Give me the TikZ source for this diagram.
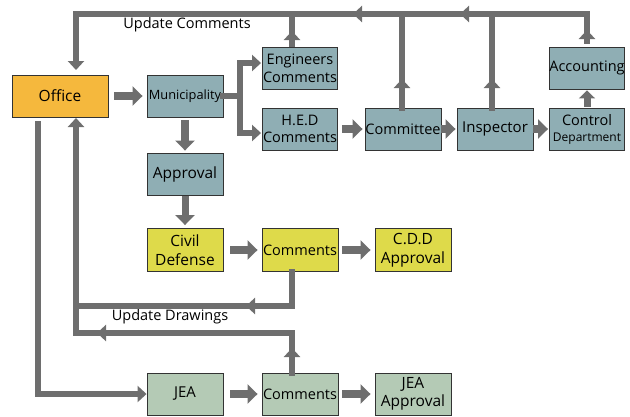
\documentclass[tikz,border=0pt]{standalone}
\usepackage{fontspec}
\setmainfont{Open Sans}
\usetikzlibrary{arrows.meta}
\definecolor{arr}{HTML}{6E6E6E}
\definecolor{orng}{HTML}{F5B83D}
\definecolor{blu}{HTML}{8FAEB4}
\definecolor{yel}{HTML}{DEDA4A}
\definecolor{grn}{HTML}{B4CAB5}
\definecolor{bord}{HTML}{333333}
\tikzset{
  box/.style={draw=bord, line width=0.9pt, minimum width=76pt, minimum height=42pt,
    inner sep=0pt, align=center, font=\fontsize{14.5}{16}\selectfont, text=black},
  fat/.style={draw=arr, line width=8pt, -{Triangle[width=19pt,length=10pt]}},
  lineA/.style={draw=arr, line width=6pt, line join=miter, line cap=rect, -{Triangle[width=16pt,length=9pt]}},
  lineP/.style={draw=arr, line width=6pt, line join=miter, line cap=rect},
  lbl/.style={font=\fontsize{14.5}{16}\selectfont, text=black}
}
\begin{document}
\begin{tikzpicture}[x=1pt,y=-1pt]
\useasboundingbox (0,0) rectangle (630,416);
% nodes
\node[box, fill=orng, minimum width=96pt, font=\fontsize{15.5}{17}\selectfont] (office) at (60,96) {Office};
\node[box, fill=blu, font=\fontsize{12.8}{14}\selectfont] (muni) at (185,96) {Municipality};
\node[box, fill=blu, font=\fontsize{15.5}{17}\selectfont] (appr) at (185,174) {Approval};
\node[box, fill=blu, minimum width=75pt] (eng) at (300,68) {Engineers\\[1.5pt]Comments};
\node[box, fill=blu, minimum width=75pt] (hed) at (300,129) {H.E.D\\[1.5pt]Comments};
\node[box, fill=blu] (comm) at (403,129) {Committee};
\node[box, fill=blu, font=\fontsize{15}{16}\selectfont] (insp) at (495,129) {Inspector};
\node[box, fill=blu, minimum width=75pt, font=\fontsize{14.5}{15}\selectfont] (ctrl) at (587,129) {Control\\[1pt]{\fontsize{12}{13}\selectfont Department}};
\node[box, fill=blu, minimum width=75pt] (acc) at (587,68) {Accounting};
\node[box, fill=yel, minimum height=43pt, font=\fontsize{15.5}{17}\selectfont] (civil) at (185,250) {Civil\\[1.5pt]Defense};
\node[box, fill=yel, minimum height=43pt] (ycom) at (300,250) {Comments};
\node[box, fill=yel, minimum height=43pt, font=\fontsize{15.5}{17}\selectfont] (cdd) at (413,250) {C.D.D\\[1.5pt]Approval};
\node[box, fill=grn, font=\fontsize{15}{16}\selectfont] (jea) at (185,394) {JEA};
\node[box, fill=grn] (gcom) at (300,394) {Comments};
\node[box, fill=grn, font=\fontsize{15.5}{17}\selectfont] (jeaa) at (413,394) {JEA\\[1.5pt]Approval};
\node[lbl] (uc) at (187,25) {Update Comments};
\node[lbl] (ud) at (170,317) {Update Drawings};
% coordinates
\coordinate (br) at (240,96);
\coordinate (br1) at (240,63);
\coordinate (br2) at (240,133);
\coordinate (accTip) at (587,30);
\coordinate (tr) at (587,14);
\coordinate (h1) at (460,14);
\coordinate (h2) at (353,14);
\coordinate (tl) at (76,14);
\coordinate (offTip) at (76,70);
\coordinate (engB) at (292,44);
\coordinate (engTip) at (292,31);
\coordinate (engT) at (292,14);
\coordinate (cB) at (402,108);
\coordinate (cTip) at (402,79);
\coordinate (cT) at (402,14);
\coordinate (iB) at (492,108);
\coordinate (iTip) at (492,79);
\coordinate (iT) at (492,14);
\coordinate (ycB) at (292,272);
\coordinate (ycC) at (292,306);
\coordinate (ycH) at (246,306);
\coordinate (gcB) at (292,373);
\coordinate (gcTip) at (292,348);
\coordinate (gcC) at (292,333);
\coordinate (gcH) at (97,333);
\coordinate (rv) at (76,333);
\coordinate (rvTip) at (76,118);
\coordinate (oj1) at (38,124);
\coordinate (oj2) at (38,394);
% top feedback line
\draw[lineA, shorten <=6pt] (acc.north) -- (accTip);
\draw[lineA] (accTip) -- (tr) -- (h1);
\draw[lineA] (h1) -- (h2);
\draw[lineA] (h2) -- (tl) -- (offTip);
\draw[lineA] (engB) -- (engTip);
\draw[lineP] (engTip) -- (engT);
\draw[lineA] (cB) -- (cTip);
\draw[lineP] (cTip) -- (cT);
\draw[lineA] (iB) -- (iTip);
\draw[lineP] (iTip) -- (iT);
% main flow
\draw[fat, shorten <=6pt, shorten >=4pt] (office) -- (muni);
\draw[lineP] (muni.east) -- (br);
\draw[lineP] (br1) -- (br2);
\draw[lineA, shorten >=1pt] (br1) -- (br1 -| eng.west);
\draw[lineA, shorten >=1pt] (br2) -- (br2 -| hed.west);
\draw[fat, shorten <=4pt, shorten >=2pt] (hed) -- (comm);
\draw[fat, shorten >=1pt] (comm) -- (insp);
\draw[fat, shorten >=1pt] (insp) -- (ctrl);
\draw[fat, line width=7pt, -{Triangle[width=16pt,length=8pt]}, shorten <=1pt, shorten >=1pt] (ctrl) -- (acc);
\draw[fat, shorten <=3pt, shorten >=2pt] (muni) -- (appr);
\draw[fat, line width=7pt, shorten <=1pt, shorten >=3pt] (appr) -- (civil);
\draw[fat, shorten <=7pt, shorten >=4pt] (civil) -- (ycom);
\draw[fat, shorten <=4pt, shorten >=4pt] (ycom) -- (cdd);
\draw[fat, shorten <=7pt, shorten >=4pt] (jea) -- (gcom);
\draw[fat, shorten <=4pt, shorten >=4pt] (gcom) -- (jeaa);
% return lines
\draw[lineA] (ycB) -- (ycC) -- (ycH);
\draw[lineP] (ycH) -- (rv |- ycC);
\draw[lineA] (gcB) -- (gcTip);
\draw[lineA] (gcTip) -- (gcC) -- (gcH);
\draw[lineP] (gcH) -- (rv);
\draw[lineA] (rv) -- (rvTip);
\draw[lineA] (oj1) -- (oj2) -- (jea.west);
\end{tikzpicture}
\end{document}
